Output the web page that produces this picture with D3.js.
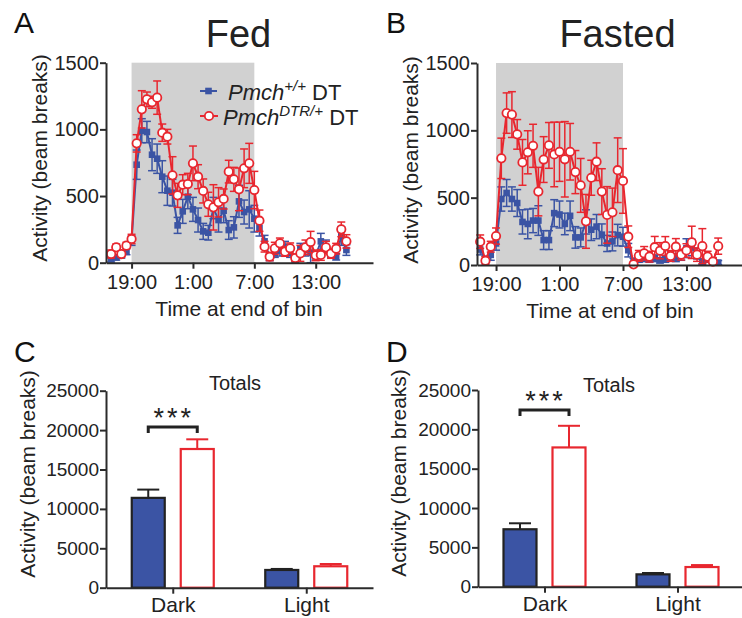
<!DOCTYPE html>
<html>
<head>
<meta charset="utf-8">
<script src="https://cdn.jsdelivr.net/npm/d3@7"></script>
<style>
  body { margin: 0; background: #fff; }
  svg { font-family: "Liberation Sans", Arial, sans-serif; }
</style>
</head>
<body>
<div id="canvas"></div>
<script>
// time in hours after 19:00, 30 min bins
var fedStart = -2      // 17:00
var fastedStart = -1.5 // 17:30
var darkPhase = [0, 12]
var timeTicks = [0, 6, 12, 18]
var timeLabels = ["19:00", "1:00", "7:00", "13:00"]
var activityTicks = [0, 500, 1000, 1500]

// A - fed
var fedWT = [25, 40, 55, 85, 165, 735, 990, 980, 810, 780, 645, 540, 525, 280, 385, 495,
  400, 320, 235, 225, 410, 320, 390, 245, 265, 460, 380, 400, 330, 260, 160, 40,
  70, 90, 120, 75, 25, 105, 95, 75, 50, 160, 120, 70, 45, 200, 95]
var fedWTErr = [20, 20, 20, 25, 35, 110, 90, 80, 120, 110, 120, 110, 100, 60, 90, 90,
  90, 90, 60, 55, 80, 90, 90, 70, 80, 120, 90, 140, 100, 60, 45, 25,
  30, 40, 40, 35, 20, 40, 45, 75, 30, 60, 50, 30, 25, 70, 40]
var fedDTR = [65, 115, 65, 128, 178, 895, 1150, 1225, 1203, 1238, 975, 945, 655, 505, 585, 590,
  745, 645, 538, 438, 415, 453, 478, 683, 625, 550, 708, 745, 545, 315, 120, 45,
  108, 145, 83, 108, 35, 70, 115, 155, 55, 58, 115, 68, 105, 250, 160]
var fedDTRErr = [30, 25, 20, 25, 35, 65, 140, 55, 45, 125, 65, 55, 140, 90, 75, 80,
  130, 90, 90, 90, 170, 110, 75, 85, 90, 160, 145, 150, 140, 80, 40, 30,
  45, 40, 35, 40, 25, 60, 55, 80, 40, 40, 45, 35, 40, 55, 50]

// B - fasted
var fastedWT = [115, 40, 75, 160, 490, 535, 490, 460, 320, 305, 330, 330, 185, 185, 385, 375,
  305, 365, 205, 205, 320, 262, 285, 225, 160, 175, 222, 210, 110, 30, 40,
  55, 40, 50, 35, 45, 70, 55, 70, 125, 130, 85, 25, 45, 25, 18]
var fastedWTErr = [40, 25, 40, 50, 90, 100, 90, 100, 90, 110, 90, 110, 70, 70, 100, 100,
  80, 110, 80, 70, 90, 80, 90, 80, 60, 70, 80, 70, 50, 20, 20,
  30, 20, 25, 20, 25, 35, 30, 35, 70, 60, 40, 20, 25, 20, 15]
var fastedDTR = [173, 32, 136, 215, 792, 1128, 1117, 970, 762, 837, 885, 545, 783, 888, 821, 841,
  785, 841, 690, 591, 324, 648, 767, 545, 372, 391, 704, 624, 210, 5, 68,
  87, 62, 132, 106, 141, 67, 136, 77, 108, 168, 77, 140, 62, 25, 140]
var fastedDTRErr = [50, 30, 40, 60, 150, 150, 170, 110, 170, 160, 160, 180, 170, 170, 240, 220,
  280, 210, 160, 200, 200, 130, 140, 170, 210, 180, 240, 240, 80, 20, 40,
  50, 40, 80, 60, 70, 40, 60, 40, 50, 120, 50, 130, 40, 30, 60]

// C, D - totals
var phases = ["Dark", "Light"]
var totalTicks = [0, 5000, 10000, 15000, 20000, 25000]
var fedTotWT = [11400, 2250]
var fedTotWTErr = [1050, 130]
var fedTotDTR = [17600, 2720]
var fedTotDTRErr = [1230, 290]
var fastedTotWT = [7300, 1570]
var fastedTotWTErr = [760, 170]
var fastedTotDTR = [17700, 2500]
var fastedTotDTRErr = [2750, 250]

var blue = "#3b54a4"
var red = "#e8272f"
var axisColor = "#2b2b2b"

var svg = d3.select("#canvas")
  .append("svg")
  .attr("width", 742)
  .attr("height", 618)

function styleAxis(g, size) {
  g.select(".domain").attr("stroke", axisColor).attr("stroke-width", 2)
  g.selectAll(".tick line").attr("stroke", axisColor).attr("stroke-width", 2)
  g.selectAll(".tick text").attr("fill", "#222").style("font-size", size + "px")
}

function yLabel(x, y) {
  svg.append("text")
    .attr("transform", `translate(${x},${y}) rotate(-90)`)
    .attr("text-anchor", "middle")
    .style("font-size", "21px")
    .attr("fill", "#222")
    .text("Activity (beam breaks)")
}

function drawSeries(g, xScale, yScale, start, vals, errs, color, marker) {
  var pts = vals.map(function (v, i) {
    return { t: start + i * 0.5, v: v, e: errs[i] }
  })
  var eb = g.append("g").attr("stroke", color).attr("stroke-width", 1.5)
  pts.forEach(function (d) {
    var cx = xScale(d.t)
    var hi = yScale(d.v + d.e)
    var lo = yScale(Math.max(0, d.v - d.e))
    eb.append("line").attr("x1", cx).attr("x2", cx).attr("y1", hi).attr("y2", lo)
    eb.append("line").attr("x1", cx - 4).attr("x2", cx + 4).attr("y1", hi).attr("y2", hi)
    eb.append("line").attr("x1", cx - 4).attr("x2", cx + 4).attr("y1", lo).attr("y2", lo)
  })
  g.append("path")
    .datum(pts)
    .attr("fill", "none")
    .attr("stroke", color)
    .attr("stroke-width", 2)
    .attr("d", d3.line().x(function (d) { return xScale(d.t) }).y(function (d) { return yScale(d.v) }))
  if (marker == "square") {
    g.selectAll(".sq").data(pts).enter().append("rect")
      .attr("x", function (d) { return xScale(d.t) - 3.3 })
      .attr("y", function (d) { return yScale(d.v) - 3.3 })
      .attr("width", 6.6).attr("height", 6.6)
      .attr("fill", color)
  } else {
    g.selectAll(".ci").data(pts).enter().append("circle")
      .attr("cx", function (d) { return xScale(d.t) })
      .attr("cy", function (d) { return yScale(d.v) })
      .attr("r", 4.2)
      .attr("fill", "#fff")
      .attr("stroke", color)
      .attr("stroke-width", 1.8)
  }
}

function linePanel(p) {
  var g = svg.append("g")
  var xScale = d3.scaleLinear().domain(p.xDomain).range(p.xRange)
  var yScale = d3.scaleLinear().domain([0, 1500]).range([p.bottom, p.top])

  g.append("rect")
    .attr("x", xScale(darkPhase[0]))
    .attr("width", xScale(darkPhase[1]) - xScale(darkPhase[0]))
    .attr("y", yScale(1500))
    .attr("height", yScale(0) - yScale(1500))
    .attr("fill", "#d1d1d1")

  drawSeries(g, xScale, yScale, p.start, p.wt, p.wtErr, blue, "square")
  drawSeries(g, xScale, yScale, p.start, p.dtr, p.dtrErr, red, "circle")

  var xAxis = g.append("g")
    .attr("transform", `translate(0,${p.bottom})`)
    .call(d3.axisBottom(xScale).tickValues(timeTicks)
      .tickFormat(function (d, i) { return timeLabels[i] })
      .tickSize(6).tickSizeOuter(0).tickPadding(6))
  styleAxis(xAxis, 20)

  var yAxis = g.append("g")
    .attr("transform", `translate(${p.xRange[0]},0)`)
    .call(d3.axisLeft(yScale).tickValues(activityTicks).tickFormat(d3.format("d"))
      .tickSize(6).tickSizeOuter(0).tickPadding(1))
  styleAxis(yAxis, 20)

  svg.append("text")
    .attr("x", p.labelX)
    .attr("y", p.bottom + 53)
    .attr("text-anchor", "middle")
    .style("font-size", "21px")
    .attr("fill", "#222")
    .text("Time at end of bin")
}

function barPanel(p) {
  var g = svg.append("g")
  var xScale = d3.scalePoint().domain(phases).range(p.xRange).padding(0.5)
  var yScale = d3.scaleLinear().domain([0, 25000]).range([p.bottom, p.top])
  var bw = 33
  var off = 24.5

  var groups = [
    { vals: p.wt, errs: p.wtErr, dx: -off, fill: blue, stroke: "#222" },
    { vals: p.dtr, errs: p.dtrErr, dx: off, fill: "#fff", stroke: red }
  ]
  groups.forEach(function (s) {
    phases.forEach(function (ph, i) {
      var cx = xScale(ph) + s.dx
      var top = yScale(s.vals[i])
      var etop = yScale(s.vals[i] + s.errs[i])
      g.append("line").attr("x1", cx).attr("x2", cx).attr("y1", top).attr("y2", etop)
        .attr("stroke", s.stroke).attr("stroke-width", 2)
      g.append("line").attr("x1", cx - 11).attr("x2", cx + 11).attr("y1", etop).attr("y2", etop)
        .attr("stroke", s.stroke).attr("stroke-width", 2)
      g.append("rect")
        .attr("x", cx - bw / 2)
        .attr("y", top)
        .attr("width", bw)
        .attr("height", yScale(0) - top)
        .attr("fill", s.fill)
        .attr("stroke", s.stroke)
        .attr("stroke-width", 2.2)
    })
  })

  // significance bracket over Dark
  var bx1 = xScale("Dark") - off
  var bx2 = xScale("Dark") + off
  var by = yScale(p.bracket)
  g.append("path")
    .attr("d", `M${bx1},${by + 6}V${by}H${bx2}V${by + 6}`)
    .attr("fill", "none")
    .attr("stroke", "#222")
    .attr("stroke-width", 3)
  g.append("text")
    .attr("x", (bx1 + bx2) / 2 + 1)
    .attr("y", by)
    .attr("text-anchor", "middle")
    .style("font-size", "27px")
    .style("letter-spacing", "3px")
    .attr("fill", "#222")
    .text("***")

  g.append("text")
    .attr("x", p.totalsX)
    .attr("y", p.totalsY)
    .attr("text-anchor", "middle")
    .style("font-size", "20px")
    .attr("fill", "#222")
    .text("Totals")

  var xAxis = g.append("g")
    .attr("transform", `translate(0,${p.bottom})`)
    .call(d3.axisBottom(xScale).tickSize(6).tickSizeOuter(0).tickPadding(3))
  styleAxis(xAxis, 21)

  var yAxis = g.append("g")
    .attr("transform", `translate(${p.xRange[0]},0)`)
    .call(d3.axisLeft(yScale).tickValues(totalTicks).tickFormat(d3.format("d"))
      .tickSize(6).tickSizeOuter(0).tickPadding(1))
  styleAxis(yAxis, 19)
}

linePanel({ xDomain: [-2.5, 23.6], xRange: [106, 373], top: 62.7, bottom: 262.7, start: fedStart, labelX: 239,
  wt: fedWT, wtErr: fedWTErr, dtr: fedDTR, dtrErr: fedDTRErr })
linePanel({ xDomain: [-1.8, 23.25], xRange: [477, 742], top: 63, bottom: 265, start: fastedStart, labelX: 610,
  wt: fastedWT, wtErr: fastedWTErr, dtr: fastedDTR, dtrErr: fastedDTRErr })

barPanel({ xRange: [106, 373], top: 390.7, bottom: 587.7, bracket: 20400, totalsX: 235, totalsY: 390,
  wt: fedTotWT, wtErr: fedTotWTErr, dtr: fedTotDTR, dtrErr: fedTotDTRErr })
barPanel({ xRange: [478, 744], top: 390, bottom: 586.7, bracket: 22450, totalsX: 609, totalsY: 391.5,
  wt: fastedTotWT, wtErr: fastedTotWTErr, dtr: fastedTotDTR, dtrErr: fastedTotDTRErr })

yLabel(47, 158)
yLabel(418, 160)
yLabel(35, 474)
yLabel(406, 473)

// panel letters and titles
var letters = [["A", 14, 33], ["B", 386, 33], ["C", 14, 362], ["D", 386, 362]]
letters.forEach(function (l) {
  svg.append("text").attr("x", l[1]).attr("y", l[2]).style("font-size", "30px").attr("fill", "#111").text(l[0])
})
svg.append("text").attr("x", 238.5).attr("y", 47).attr("text-anchor", "middle")
  .style("font-size", "38px").attr("fill", "#222").text("Fed")
svg.append("text").attr("x", 617.5).attr("y", 47).attr("text-anchor", "middle")
  .style("font-size", "38px").attr("fill", "#222").text("Fasted")

// legend
var leg = svg.append("g")
leg.append("line").attr("x1", 200).attr("x2", 217).attr("y1", 91).attr("y2", 91).attr("stroke", blue).attr("stroke-width", 2)
leg.append("rect").attr("x", 205.2).attr("y", 87.7).attr("width", 6.6).attr("height", 6.6).attr("fill", blue)
leg.append("line").attr("x1", 200).attr("x2", 218).attr("y1", 116).attr("y2", 116).attr("stroke", red).attr("stroke-width", 2)
leg.append("circle").attr("cx", 209).attr("cy", 116).attr("r", 4.2).attr("fill", "#fff").attr("stroke", red).attr("stroke-width", 1.8)

var t1 = leg.append("text").attr("x", 228).attr("y", 100).style("font-size", "22px").attr("fill", "#222")
t1.append("tspan").style("font-style", "italic").text("Pmch")
t1.append("tspan").style("font-style", "italic").style("font-size", "15px").attr("dy", -9).text("+/+")
t1.append("tspan").attr("dy", 9).text(" DT")

var t2 = leg.append("text").attr("x", 223).attr("y", 125).style("font-size", "22px").attr("fill", "#222")
t2.append("tspan").style("font-style", "italic").text("Pmch")
t2.append("tspan").style("font-style", "italic").style("font-size", "15px").attr("dy", -9).text("DTR/+")
t2.append("tspan").attr("dy", 9).text(" DT")
</script>
</body>
</html>
